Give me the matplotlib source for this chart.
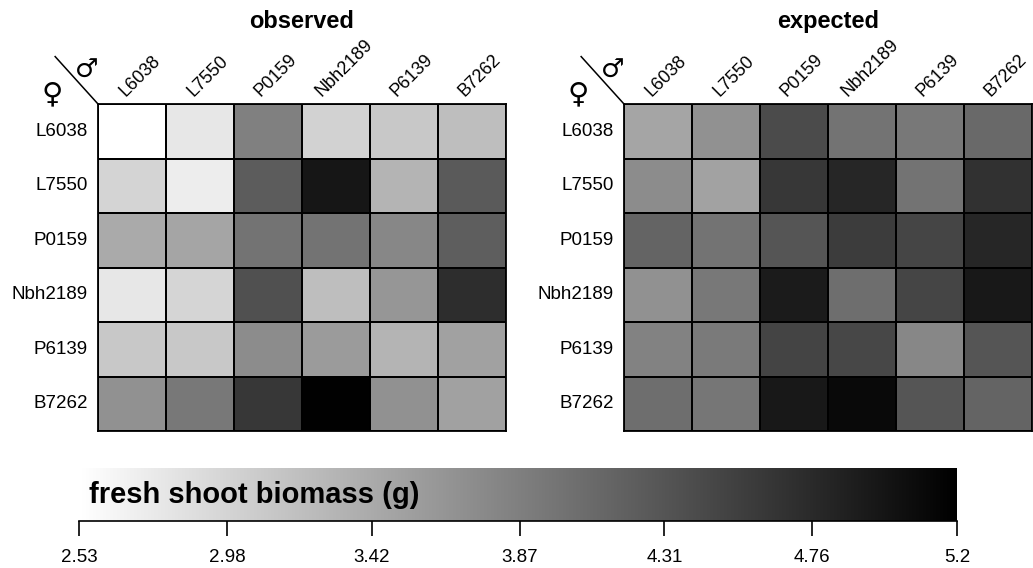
import numpy as np
import matplotlib
matplotlib.use('Agg')
import matplotlib.pyplot as plt
from matplotlib.colors import Normalize
from matplotlib.colorbar import ColorbarBase

plt.rcParams['font.family'] = ['Liberation Sans', 'DejaVu Sans']

lines = ["L6038", "L7550", "P0159", "Nbh2189", "P6139", "B7262"]

# rows = female parent, columns = male parent
observed = [
    [2.53, 2.79, 3.86, 3.00, 3.11, 3.21],
    [2.98, 2.72, 4.24, 4.97, 3.32, 4.26],
    [3.42, 3.47, 4.00, 4.00, 3.79, 4.21],
    [2.79, 2.97, 4.36, 3.21, 3.63, 4.73],
    [3.11, 3.11, 3.73, 3.58, 3.32, 3.52],
    [3.68, 3.94, 4.62, 5.18, 3.68, 3.52],
]
expected = [
    [3.47, 3.68, 4.41, 4.00, 3.94, 4.10],
    [3.73, 3.50, 4.62, 4.80, 4.00, 4.68],
    [4.15, 4.00, 4.31, 4.57, 4.47, 4.80],
    [3.68, 3.94, 4.91, 4.05, 4.47, 4.94],
    [3.84, 3.92, 4.49, 4.45, 3.79, 4.31],
    [4.05, 3.96, 4.94, 5.10, 4.31, 4.15],
]
cb_ticks = [2.53, 2.98, 3.42, 3.87, 4.31, 4.76, 5.2]
vmin, vmax = 2.53, 5.2

W, H = 1033, 568
fig = plt.figure(figsize=(W / 100, H / 100), dpi=100)

def px_axes(x0, y0, x1, y1):
    return fig.add_axes([x0 / W, 1 - y1 / H, (x1 - x0) / W, (y1 - y0) / H])

norm = Normalize(vmin=vmin, vmax=vmax)

def heat(ax, data, title):
    data = np.array(data)
    ax.pcolormesh(data, cmap='gray_r', norm=norm, edgecolors='k', linewidth=1.1)
    ax.set_xlim(0, 6)
    ax.set_ylim(6, 0)
    ax.set_xticks([])
    ax.set_yticks([])
    for s in ax.spines.values():
        s.set_linewidth(1.3)
    for i, name in enumerate(lines):
        ax.text(-0.15, i + 0.5, name, ha='right', va='center', fontsize=13.5)
        ax.text(i + 0.62, -0.07, name, rotation=45,
                ha='center', va='bottom', fontsize=13)
    ax.set_title(title, fontsize=17, fontweight='bold', pad=0, y=1.232)
    # corner: female rows / male columns
    ax.plot([-0.105, 0], [1.145, 1.0], color='k', lw=1.1, transform=ax.transAxes, clip_on=False)
    ax.text(-0.027, 1.10, "\u2642", transform=ax.transAxes, ha='center', va='center',
            fontsize=19, family='DejaVu Sans')
    ax.text(-0.113, 1.03, "\u2640", transform=ax.transAxes, ha='center', va='center',
            fontsize=21, family='DejaVu Sans')

ax1 = px_axes(98, 104, 506, 431)
heat(ax1, observed, "observed")
ax2 = px_axes(624, 104, 1032, 431)
heat(ax2, expected, "expected")

cax = px_axes(79, 468, 957, 521)
cb = ColorbarBase(cax, cmap='gray_r', norm=norm, orientation='horizontal')
cb.outline.set_visible(False)
cb.set_ticks(cb_ticks)
cb.set_ticklabels([str(t) for t in cb_ticks])
cax.spines['bottom'].set_visible(True)
cax.spines['bottom'].set_linewidth(1.2)
cax.tick_params(axis='x', length=11, width=1.2, labelsize=13.5, pad=9)
cax.text(0.011, 0.34, "fresh shoot biomass (g)", transform=cax.transAxes,
         ha='left', va='baseline', fontsize=21, fontweight='bold')

fig.savefig("out.png", dpi=100)
